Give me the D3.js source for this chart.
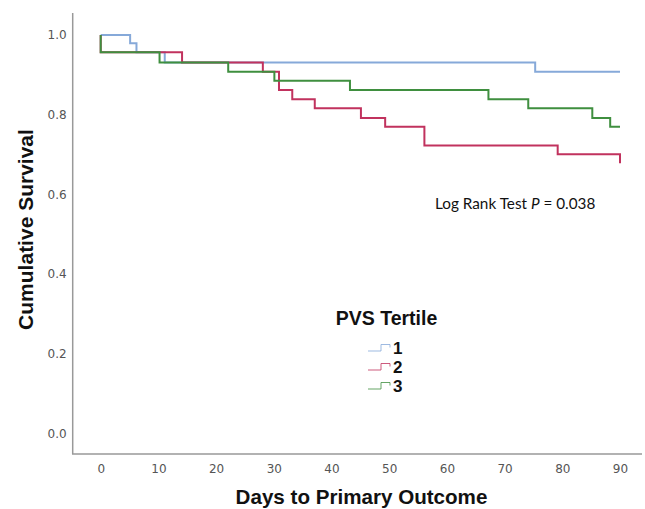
<!DOCTYPE html>
<html>
<head>
<meta charset="utf-8">
<script src="https://cdn.jsdelivr.net/npm/d3@7"></script>
<style>
  body { margin: 0; background: #fff; }
  .tick text { font-family: "DejaVu Sans", sans-serif; font-size: 12px; fill: #555; }
  .title { font-family: "Liberation Sans", Arial, sans-serif; font-weight: bold; fill: #111; }
</style>
</head>
<body>
<script>
// Kaplan-Meier steps per PVS tertile (days, cumulative survival)
var blueDays  = [0, 5.1, 6.2, 11.1, 75.3, 90];
var blueSurv  = [1.0, 0.979, 0.957, 0.931, 0.908, 0.908];

var redDays   = [0, 0, 14.1, 28.1, 30.9, 33.2, 37.1, 45.1, 49.3, 56.1, 79.2, 90, 90];
var redSurv   = [1.0, 0.957, 0.931, 0.908, 0.862, 0.839, 0.816, 0.792, 0.770, 0.723, 0.701, 0.701, 0.678];

var greenDays = [0, 0, 10.2, 22.1, 30.1, 43.2, 67.2, 74.1, 85.2, 88.3, 90];
var greenSurv = [1.0, 0.957, 0.931, 0.908, 0.885, 0.862, 0.839, 0.816, 0.792, 0.770, 0.770];

var xTicks = [0, 10, 20, 30, 40, 50, 60, 70, 80, 90];
var yTicks = [0, 0.2, 0.4, 0.6, 0.8, 1.0];
var groups = ['1', '2', '3'];

var W = 645, H = 509;
var colors = {'1': '#86a9d9', '2': '#c1325e', '3': '#3f8f3f'};

var svg = d3.select("body").append("svg")
    .attr("width", W)
    .attr("height", H);

var x = d3.scaleLinear().domain([0, 90]).range([100.7, 620]);
var y = d3.scaleLinear().domain([0, 1]).range([433.5, 35]);

// frame lines (SPSS style, no ticks)
svg.append("line")
    .attr("x1", 72.7).attr("x2", 72.7)
    .attr("y1", 13).attr("y2", 454)
    .attr("stroke", "#999").attr("stroke-width", 1.5);
svg.append("line")
    .attr("x1", 72).attr("x2", 642)
    .attr("y1", 454).attr("y2", 454)
    .attr("stroke", "#999").attr("stroke-width", 1.5);

var xAxis = svg.append("g")
    .attr("transform", "translate(0,454)")
    .call(d3.axisBottom(x).tickValues(xTicks).tickSize(0).tickPadding(10));
xAxis.select(".domain").remove();

var yAxis = svg.append("g")
    .attr("transform", "translate(72.7,0)")
    .call(d3.axisLeft(y).tickValues(yTicks).tickSize(0).tickPadding(6)
        .tickFormat(d3.format(".1f")));
yAxis.select(".domain").remove();

// survival curves
var line = d3.line()
    .x(function(d){ return x(d[0]); })
    .y(function(d){ return y(d[1]); })
    .curve(d3.curveStepAfter);

var series = [
    {key: '1', pts: d3.zip(blueDays, blueSurv)},
    {key: '2', pts: d3.zip(redDays, redSurv)},
    {key: '3', pts: d3.zip(greenDays, greenSurv)}
];

series.forEach(function(s){
    svg.append("path")
        .datum(s.pts)
        .attr("fill", "none")
        .attr("stroke", colors[s.key])
        .attr("stroke-width", 2)
        .attr("d", line);
});

// annotation
var ann = svg.append("text")
    .attr("x", 435).attr("y", 209)
    .style("font-family", "Lato, 'Open Sans', sans-serif")
    .style("font-size", "15.3px")
    .attr("fill", "#111");
ann.append("tspan").text("Log Rank Test ");
ann.append("tspan").style("font-style", "italic").text("P");
ann.append("tspan").text(" = 0.038");

// axis titles
svg.append("text")
    .attr("class", "title")
    .attr("x", 361.5).attr("y", 504)
    .attr("text-anchor", "middle")
    .style("font-size", "20.6px")
    .text("Days to Primary Outcome");

svg.append("text")
    .attr("class", "title")
    .attr("transform", "translate(33,229.5) rotate(-90)")
    .attr("text-anchor", "middle")
    .style("font-size", "21px")
    .text("Cumulative Survival");

// legend
svg.append("text")
    .attr("class", "title")
    .attr("x", 386.5).attr("y", 325)
    .attr("text-anchor", "middle")
    .style("font-size", "19.5px")
    .text("PVS Tertile");

var legY = d3.scalePoint().domain(groups).range([348, 386]);

groups.forEach(function(g){
    var cy = legY(g);
    svg.append("path")
        .attr("d", "M368," + (cy + 3) + "H381V" + (cy - 3.5) + "H390V" + (cy - 0.5))
        .attr("fill", "none")
        .attr("stroke", colors[g])
        .attr("stroke-width", 1)
        .attr("opacity", 0.8);
    svg.append("text")
        .attr("class", "title")
        .attr("x", 393).attr("y", cy + 6)
        .style("font-size", "17px")
        .text(g);
});
</script>
</body>
</html>
